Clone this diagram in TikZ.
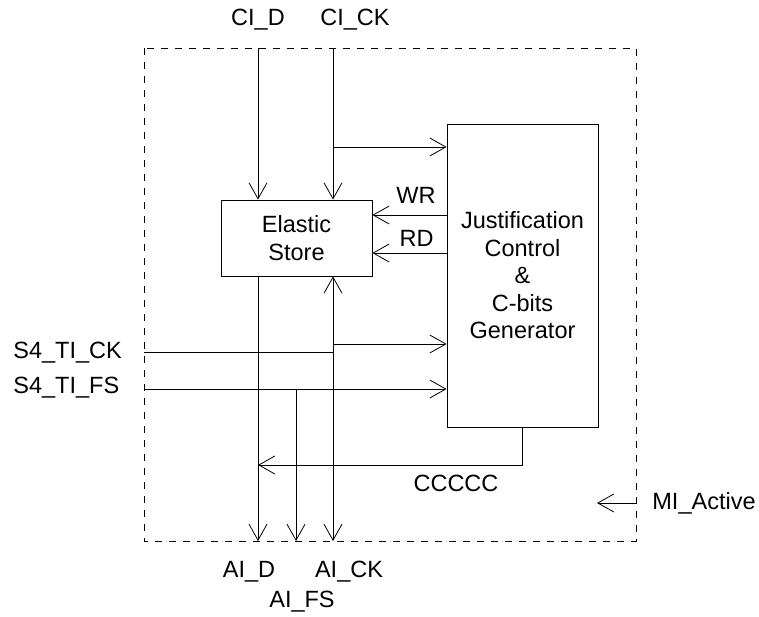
\documentclass[tikz,border=0pt]{standalone}
\usepackage{fontspec}
\setmainfont{Liberation Sans}
\usetikzlibrary{arrows.meta}
\begin{document}
\begin{tikzpicture}[x=1pt,y=-1pt,
  line width=0.8pt,
  arr/.style={-{Straight Barb[length=16pt,width=18pt,line width=0.8pt]}},
  blockbox/.style={draw, rectangle, inner sep=0pt, align=center},
  lbl/.style={inner sep=0pt, font=\fontsize{23.5}{27.5}\selectfont},
  border/.style={dash pattern=on 7pt off 7pt, line width=0.8pt}]
\useasboundingbox (0,0) rectangle (759,617);
\fill[white] (0,0) rectangle (759,617);
% dashed boundary
\draw[border] (144,48) rectangle (636,541);
% blocks
\node[blockbox, minimum width=151pt, minimum height=76pt, lbl] (es) at (296.5,238) {Elastic\\Store};
\node[blockbox, minimum width=151pt, minimum height=303pt, lbl] (jc) at (522.5,275.5) {Justification\\Control\\\&\\C-bits\\Generator};
% labels
\node[lbl] (cid) at (258,20) {CI\_D};
\node[lbl] (cick) at (355,20) {CI\_CK};
\node[lbl] (wr) at (416,195) {WR};
\node[lbl] (rd) at (416.5,238) {RD};
\node[lbl, anchor=west] (s4ck) at (13,353) {S4\_TI\_CK};
\node[lbl, anchor=west] (s4fs) at (13,388) {S4\_TI\_FS};
\node[lbl] (ccc) at (456,483) {CCCCC};
\node[lbl, anchor=west] (mia) at (652,503) {MI\_Active};
\node[lbl] (aid) at (249,572) {AI\_D};
\node[lbl] (aick) at (349,572) {AI\_CK};
\node[lbl] (aifs) at (302,602) {AI\_FS};
% coordinates
\coordinate (cidin) at (258,48);
\coordinate (cickin) at (333,48);
\coordinate (cickbr) at (333,147);
\coordinate (s4ckin) at (144,352);
\coordinate (s4ckj) at (333,352);
\coordinate (ckbr) at (333,344);
\coordinate (s4fsin) at (144,389);
\coordinate (fsbr) at (296,389);
\coordinate (aidout) at (258,541);
\coordinate (aickout) at (333,541);
\coordinate (aifsout) at (296,541);
\coordinate (cbend) at (522,465);
\coordinate (miain) at (636,503);
\coordinate (miaout) at (597,503);
% connectors
\draw[arr] (cidin) -- (cidin |- es.north);
\draw[arr] (cickin) -- (cickin |- es.north);
\draw[arr] (cickbr) -- (cickbr -| jc.west);
\draw[arr] (jc.west |- 0,215) -- (es.east |- 0,215);
\draw[arr] (jc.west |- 0,253) -- (es.east |- 0,253);
\draw[arr] (cidin |- es.south) -- (aidout);
\draw[arr] (s4ckj) -- (s4ckj |- es.south);
\draw[arr] (s4ckj) -- (aickout);
\draw (s4ckin) -- (s4ckj);
\draw[arr] (ckbr) -- (ckbr -| jc.west);
\draw[arr] (s4fsin) -- (s4fsin -| jc.west);
\draw[arr] (fsbr) -- (aifsout);
\draw[arr] (cbend |- jc.south) -- (cbend) -- (cbend -| aidout);
\draw[arr] (miain) -- (miaout);
\end{tikzpicture}
\end{document}
